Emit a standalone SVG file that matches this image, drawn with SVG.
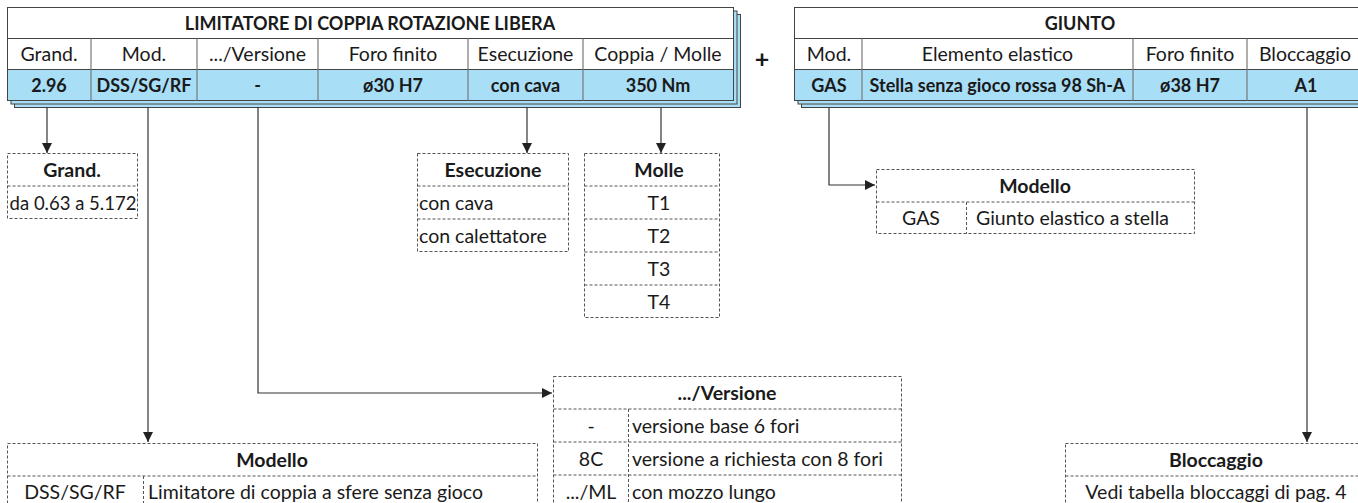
<svg xmlns="http://www.w3.org/2000/svg" width="1358" height="503" viewBox="0 0 1358 503">
<defs>
<style>
.t{font-family:Lato,"Open Sans","Liberation Sans",sans-serif;font-size:19.5px;fill:#1a1a1a}
.b{font-weight:bold;font-size:18px}
.h{font-weight:bold;font-size:19.5px}
.c{text-anchor:middle}
.box{fill:#fff;stroke:#444;stroke-width:1}
.blue{fill:#a9def7;stroke:#444;stroke-width:1}
.div{stroke:#777;stroke-width:1.2}
.dash{fill:none;stroke:#555;stroke-width:1;stroke-dasharray:3 2}
.con{fill:none;stroke:#333;stroke-width:1.2}
</style>
<marker id="ah" viewBox="0 0 10 10" refX="10" refY="5" markerWidth="12" markerHeight="10" markerUnits="userSpaceOnUse" orient="auto">
<path d="M0,0 L10,5 L0,10 z" fill="#222"/>
</marker>
</defs>
<rect width="1358" height="503" fill="#fff"/>

<g id="table-limitatore">
<rect class="blue" x="14.5" y="14.5" width="726" height="93"/>
<rect class="blue" x="11" y="11" width="726" height="93"/>
<rect class="box" x="7.5" y="7.5" width="726" height="31"/>
<rect class="box" x="7.5" y="38.5" width="726" height="31"/>
<rect class="blue" x="7.5" y="69.5" width="726" height="31"/>
<g class="div">
<line x1="91" y1="38.5" x2="91" y2="100.5"/>
<line x1="197" y1="38.5" x2="197" y2="100.5"/>
<line x1="318" y1="38.5" x2="318" y2="100.5"/>
<line x1="468" y1="38.5" x2="468" y2="100.5"/>
<line x1="583" y1="38.5" x2="583" y2="100.5"/>
</g>
<text class="t b c" x="370" y="30">LIMITATORE DI COPPIA ROTAZIONE LIBERA</text>
<text class="t c" x="49" y="61">Grand.</text>
<text class="t c" x="144" y="61">Mod.</text>
<text class="t c" x="257.5" y="61">.../Versione</text>
<text class="t c" x="393" y="61">Foro finito</text>
<text class="t c" x="525.5" y="61">Esecuzione</text>
<text class="t c" x="658" y="61">Coppia / Molle</text>
<text class="t b c" x="49" y="92">2.96</text>
<text class="t b c" x="144" y="92">DSS/SG/RF</text>
<text class="t b c" x="257.5" y="92">-</text>
<text class="t b c" x="393" y="92">ø30 H7</text>
<text class="t b c" x="525.5" y="92">con cava</text>
<text class="t b c" x="658" y="92">350 Nm</text>
</g>

<text class="t b c" x="762" y="68" style="font-size:25px">+</text>

<g id="table-giunto">
<rect class="blue" x="801.5" y="14.5" width="572" height="93"/>
<rect class="blue" x="798" y="11" width="572" height="93"/>
<rect class="box" x="794.5" y="7.5" width="572" height="31"/>
<rect class="box" x="794.5" y="38.5" width="572" height="31"/>
<rect class="blue" x="794.5" y="69.5" width="572" height="31"/>
<g class="div">
<line x1="862" y1="38.5" x2="862" y2="100.5"/>
<line x1="1133" y1="38.5" x2="1133" y2="100.5"/>
<line x1="1247" y1="38.5" x2="1247" y2="100.5"/>
</g>
<text class="t b c" x="1080" y="30">GIUNTO</text>
<text class="t c" x="829" y="61">Mod.</text>
<text class="t c" x="997.5" y="61">Elemento elastico</text>
<text class="t c" x="1190" y="61">Foro finito</text>
<text class="t c" x="1305" y="61">Bloccaggio</text>
<text class="t b c" x="829" y="92">GAS</text>
<text class="t b c" x="997.5" y="92">Stella senza gioco rossa 98 Sh-A</text>
<text class="t b c" x="1190" y="92">ø38 H7</text>
<text class="t b c" x="1306" y="92">A1</text>
</g>

<g id="connectors">
<path class="con" d="M47,107 V153" marker-end="url(#ah)"/>
<path class="con" d="M148,107 V442" marker-end="url(#ah)"/>
<path class="con" d="M258,107 V393 H552" marker-end="url(#ah)"/>
<path class="con" d="M527,107 V153" marker-end="url(#ah)"/>
<path class="con" d="M661,107 V153" marker-end="url(#ah)"/>
<path class="con" d="M829,107 V185 H875" marker-end="url(#ah)"/>
<path class="con" d="M1307,107 V442" marker-end="url(#ah)"/>
</g>

<g id="box-grand">
<rect class="dash" x="7.5" y="153.5" width="130" height="65"/>
<line class="dash" x1="7.5" y1="186" x2="137.5" y2="186"/>
<text class="t h c" x="72" y="177">Grand.</text>
<text class="t c" x="73" y="210" style="font-size:18.5px">da 0.63 a 5.172</text>
</g>

<g id="box-esecuzione">
<rect class="dash" x="417.5" y="153.5" width="151" height="98"/>
<line class="dash" x1="417.5" y1="186" x2="568.5" y2="186"/>
<line class="dash" x1="417.5" y1="219" x2="568.5" y2="219"/>
<text class="t h c" x="493" y="177">Esecuzione</text>
<text class="t" x="419" y="210">con cava</text>
<text class="t" x="419" y="243">con calettatore</text>
</g>

<g id="box-molle">
<rect class="dash" x="584.5" y="153.5" width="135" height="164"/>
<line class="dash" x1="584.5" y1="186" x2="719.5" y2="186"/>
<line class="dash" x1="584.5" y1="219" x2="719.5" y2="219"/>
<line class="dash" x1="584.5" y1="252" x2="719.5" y2="252"/>
<line class="dash" x1="584.5" y1="285" x2="719.5" y2="285"/>
<text class="t h c" x="659" y="177">Molle</text>
<text class="t c" x="659" y="210">T1</text>
<text class="t c" x="659" y="243">T2</text>
<text class="t c" x="659" y="276">T3</text>
<text class="t c" x="659" y="309">T4</text>
</g>

<g id="box-modello-giunto">
<rect class="dash" x="876.5" y="169.5" width="318" height="64"/>
<line class="dash" x1="876.5" y1="202" x2="1194.5" y2="202"/>
<line class="dash" x1="966.5" y1="202" x2="966.5" y2="233.5"/>
<text class="t h c" x="1035" y="193">Modello</text>
<text class="t c" x="921" y="225">GAS</text>
<text class="t" x="976" y="225">Giunto elastico a stella</text>
</g>

<g id="box-versione">
<rect class="dash" x="553.5" y="376.5" width="348" height="140"/>
<line class="dash" x1="553.5" y1="409" x2="901.5" y2="409"/>
<line class="dash" x1="553.5" y1="442" x2="901.5" y2="442"/>
<line class="dash" x1="553.5" y1="475" x2="901.5" y2="475"/>
<line class="dash" x1="628.5" y1="409" x2="628.5" y2="516"/>
<text class="t h c" x="727" y="400">.../Versione</text>
<text class="t c" x="591" y="433">-</text>
<text class="t c" x="591" y="466">8C</text>
<text class="t c" x="591" y="499">.../ML</text>
<text class="t" x="632" y="433">versione base 6 fori</text>
<text class="t" x="632" y="466">versione a richiesta con 8 fori</text>
<text class="t" x="632" y="499">con mozzo lungo</text>
</g>

<g id="box-modello">
<rect class="dash" x="7.5" y="443.5" width="530" height="80"/>
<line class="dash" x1="7.5" y1="476" x2="537.5" y2="476"/>
<line class="dash" x1="143.5" y1="476" x2="143.5" y2="523"/>
<text class="t h c" x="272" y="467">Modello</text>
<text class="t c" x="75" y="499">DSS/SG/RF</text>
<text class="t" x="148" y="499">Limitatore di coppia a sfere senza gioco</text>
</g>

<g id="box-bloccaggio">
<rect class="dash" x="1065.5" y="443.5" width="302" height="80"/>
<line class="dash" x1="1065.5" y1="476" x2="1367.5" y2="476"/>
<text class="t h c" x="1216" y="467">Bloccaggio</text>
<text class="t c" x="1216" y="499">Vedi tabella bloccaggi di pag. 4</text>
</g>
</svg>
